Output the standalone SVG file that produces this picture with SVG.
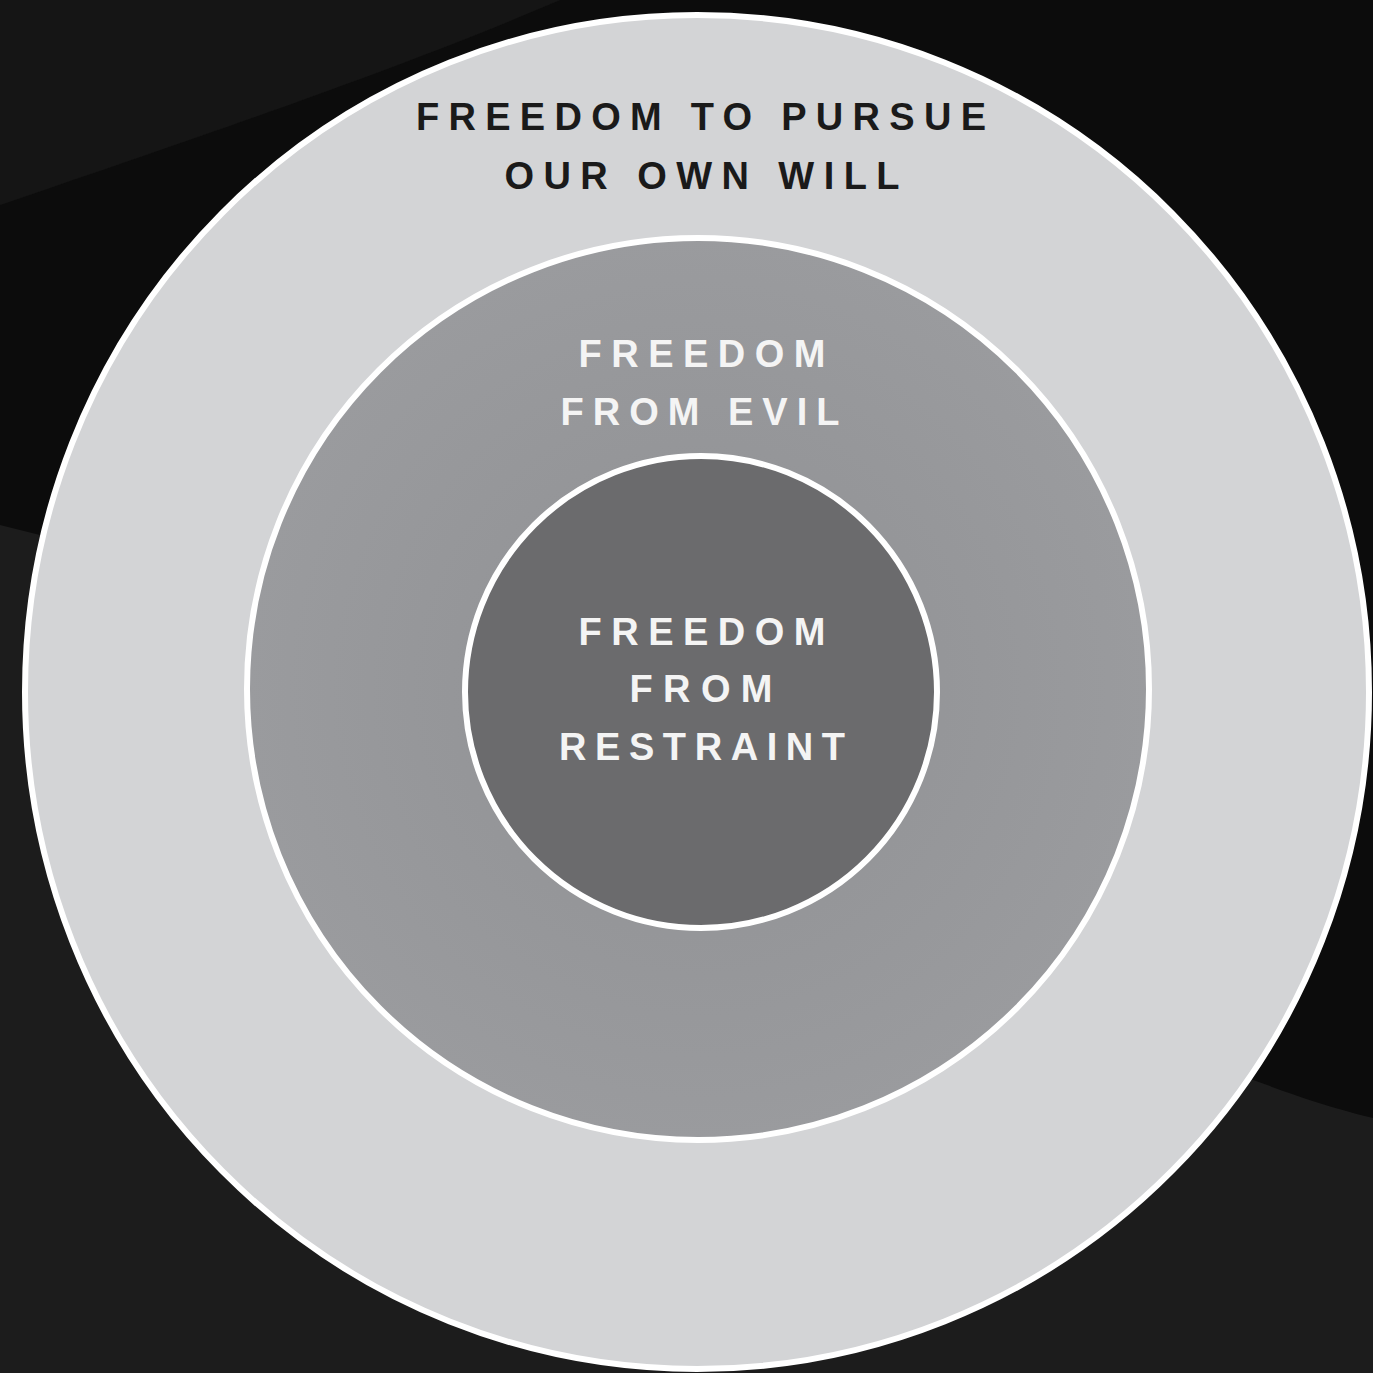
<svg xmlns="http://www.w3.org/2000/svg" width="1373" height="1373" viewBox="0 0 1373 1373">
  <style>
    .ring { stroke: #ffffff; stroke-width: 6; }
    .lbl { font-family: "Liberation Sans", Arial, sans-serif; font-weight: bold; font-size: 38px; text-anchor: middle; }
    .dark { fill: #1a1a1a; }
    .light { fill: #f4f4f4; }
  </style>
  <defs>
    <radialGradient id="midGrad" cx="0.5" cy="0.5" r="0.5">
      <stop offset="0" stop-color="#8f9093"/>
      <stop offset="1" stop-color="#9a9b9e"/>
    </radialGradient>
  </defs>
  <g id="background">
    <rect x="0" y="0" width="1373" height="1373" fill="#1c1c1c"/>
    <path d="M0,0 L560,0 C420,60 250,120 0,205 Z" fill="#151515"/>
    <path d="M0,205 C250,120 420,60 560,0 L1373,0 L1373,1118 C1320,1105 1280,1090 1240,1075 L700,700 L0,525 Z" fill="#0c0c0c"/>
  </g>
  <g id="node-outer">
    <ellipse class="ring" cx="697" cy="692" rx="672" ry="677" fill="#d3d4d6"/>
    <text class="lbl dark" x="701" y="130" textLength="570" lengthAdjust="spacing">FREEDOM TO PURSUE</text>
    <text class="lbl dark" x="702" y="189" textLength="395" lengthAdjust="spacing">OUR OWN WILL</text>
  </g>
  <g id="node-middle">
    <circle class="ring" cx="698" cy="689" r="451" fill="url(#midGrad)"/>
    <text class="lbl light" x="702" y="367" textLength="247" lengthAdjust="spacing">FREEDOM</text>
    <text class="lbl light" x="700" y="425" textLength="279" lengthAdjust="spacing">FROM EVIL</text>
  </g>
  <g id="node-inner">
    <circle class="ring" cx="701" cy="692" r="236" fill="#6b6b6d"/>
    <text class="lbl light" x="702" y="645" textLength="247" lengthAdjust="spacing">FREEDOM</text>
    <text class="lbl light" x="701" y="702" textLength="143" lengthAdjust="spacing">FROM</text>
    <text class="lbl light" x="702" y="760" textLength="286" lengthAdjust="spacing">RESTRAINT</text>
  </g>
  <g id="connectors"/>
</svg>
